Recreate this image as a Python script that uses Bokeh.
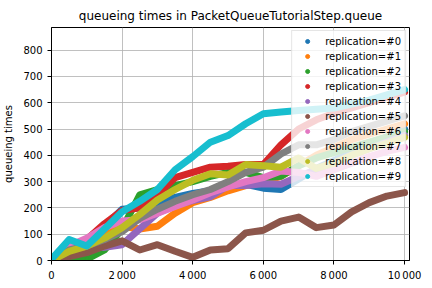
from bokeh.plotting import figure
from bokeh.models import Range1d, FixedTicker, Legend, LegendItem
from bokeh.embed import file_html
from bokeh.resources import INLINE

# ---- data ----
time_points = [0, 500, 1000, 1500, 2000, 2500, 3000, 3500, 4000, 4500, 5000,
               5500, 6000, 6500, 7000, 7500, 8000, 8500, 9000, 9500, 10000]

rep0 = [0, 45, 80, 130, 195, 200, 220, 240, 255, 265, 280, 290, 275, 270, 310, 350, 380, 410, 440, 470, 500]
rep1 = [0, 30, 60, 100, 130, 120, 130, 180, 220, 240, 265, 285, 300, 320, 360, 400, 430, 460, 480, 500, 520]
rep2 = [0, 0, 5, 40, 120, 250, 270, 285, 300, 320, 335, 335, 315, 320, 360, 390, 410, 430, 450, 470, 490]
rep3 = [5, 40, 80, 140, 190, 200, 250, 315, 335, 355, 358, 365, 365, 440, 500, 535, 560, 580, 600, 620, 640]
rep4 = [0, 20, 45, 50, 60, 120, 180, 210, 228, 242, 285, 285, 292, 290, 320, 345, 370, 400, 425, 450, 475]
rep5 = [0, 15, 30, 55, 75, 40, 60, 35, 12, 40, 45, 105, 115, 150, 165, 125, 135, 185, 220, 245, 258]
rep6 = [0, 55, 85, 125, 150, 155, 180, 205, 230, 258, 280, 300, 315, 340, 335, 320, 345, 370, 395, 415, 430]
rep7 = [0, 40, 55, 80, 110, 160, 195, 225, 250, 270, 300, 335, 355, 405, 440, 440, 460, 490, 510, 530, 550]
rep8 = [0, 35, 55, 85, 125, 175, 230, 270, 305, 330, 325, 365, 360, 355, 390, 350, 370, 400, 425, 445, 468]
rep9 = [5, 80, 55, 120, 185, 225, 270, 345, 395, 450, 475, 520, 558, 565, 570, 575, 580, 595, 610, 630, 650]

series = [rep0, rep1, rep2, rep3, rep4, rep5, rep6, rep7, rep8, rep9]
labels = ["replication=#%d" % i for i in range(10)]
colors = ["#1f77b4", "#ff7f0e", "#2ca02c", "#d62728", "#9467bd",
          "#8c564b", "#e377c2", "#7f7f7f", "#bcbd22", "#17becf"]

x_ticks = [0, 2000, 4000, 6000, 8000, 10000]
x_tick_labels = ["0", "2\u2009000", "4\u2009000", "6\u2009000", "8\u2009000", "10\u2009000"]
y_ticks = [0, 100, 200, 300, 400, 500, 600, 700, 800]

FONT = "DejaVu Sans"

p = figure(width=432, height=288, output_backend="svg", toolbar_location=None,
           x_range=Range1d(0, 10140), y_range=Range1d(0, 886),
           min_border_left=51, min_border_right=23, min_border_top=27, min_border_bottom=28,
           title="queueing times in PacketQueueTutorialStep.queue")

p.title.align = "center"
p.title.text_font = FONT
p.title.text_font_size = "12px"
p.title.text_font_style = "normal"
p.title.text_color = "black"

p.background_fill_color = "white"
p.border_fill_color = "white"
p.outline_line_color = "black"
p.outline_line_width = 1
p.outline_line_alpha = 1

for ax in (p.xaxis[0], p.yaxis[0]):
    ax.axis_line_color = "black"
    ax.major_tick_line_color = "black"
    ax.major_tick_out = 4
    ax.major_tick_in = 0
    ax.minor_tick_line_color = None
    ax.major_label_text_font = FONT
    ax.major_label_text_font_size = "10px"
    ax.major_label_text_color = "black"
    ax.axis_label_text_font = FONT
    ax.axis_label_text_font_size = "10px"
    ax.axis_label_text_font_style = "normal"
    ax.axis_label_text_color = "black"

p.xaxis.ticker = FixedTicker(ticks=x_ticks)
p.xaxis.major_label_overrides = dict(zip(x_ticks, x_tick_labels))
p.yaxis.ticker = FixedTicker(ticks=y_ticks)
p.yaxis.axis_label = "queueing times"
p.yaxis.axis_label_standoff = 6

p.grid.grid_line_color = "#b0b0b0"
p.grid.grid_line_width = 0.8

items = []
for vals, lab, col in zip(series, labels, colors):
    p.line(time_points, vals, line_color=col, line_width=7, line_join="round", line_cap="round")
    r = p.scatter(time_points, vals, marker="circle", size=4, fill_color=col, line_color=col)
    items.append(LegendItem(label=lab, renderers=[r]))

legend = Legend(items=items, location="top_right")
legend.label_text_font = FONT
legend.label_text_font_size = "10px"
legend.label_text_color = "black"
legend.background_fill_color = "white"
legend.background_fill_alpha = 0.8
legend.border_line_color = "#cccccc"
legend.border_line_width = 1
legend.glyph_width = 22
legend.glyph_height = 10
legend.label_height = 12
legend.label_standoff = 7
legend.spacing = 3
legend.padding = 4
legend.margin = 3
p.add_layout(legend, "center")

open("out.html", "w").write(file_html(p, INLINE))
